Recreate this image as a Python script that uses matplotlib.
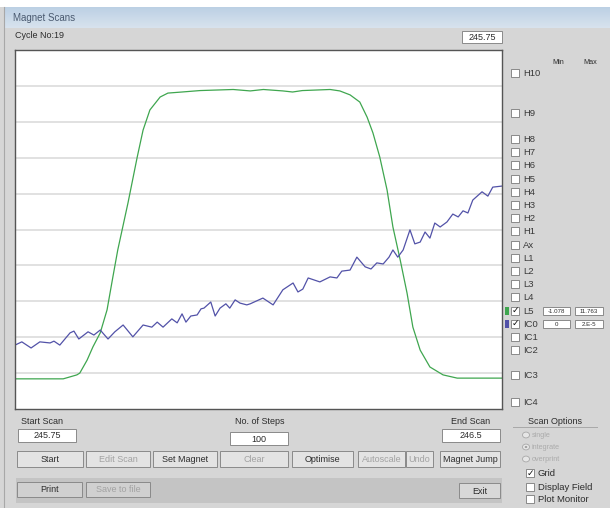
import numpy as np
import matplotlib
matplotlib.use("Agg")
import matplotlib.pyplot as plt
from matplotlib.patches import Rectangle, Circle

plt.rcParams['font.family'] = ['Liberation Sans', 'DejaVu Sans']

# scan step (0..100) and signal in grid units (0..10)
l5_steps = [0, 9.9, 12.7, 13.3, 14.8, 16.0, 17.5, 18.9, 20.1, 21.1, 23.2, 25.1, 26.3, 27.7,
            29.8, 31.4, 34.3, 38.0, 44.8, 48.3, 51.0, 55.0, 57.0, 59.0, 64.7, 66.7, 68.8,
            70.8, 72.3, 73.5, 74.9, 76.4, 77.6, 79.1, 80.5, 81.7, 83.2, 85.2, 87.9, 90.8, 100]
l5_vals = [0.84, 0.84, 0.95, 1.00, 1.36, 1.73, 2.12, 2.76, 3.68, 4.43, 5.74, 7.02, 7.77, 8.33,
           8.69, 8.80, 8.83, 8.87, 8.90, 8.86, 8.90, 8.86, 8.83, 8.87, 8.90, 8.86, 8.75,
           8.55, 8.13, 7.69, 7.02, 6.10, 5.07, 4.15, 3.23, 2.28, 1.64, 1.17, 0.95, 0.86, 0.86]

ic0_steps = [0, 1.4, 3.3, 5.1, 7.2, 8.0, 9.2, 11.3, 12.1, 13.1, 15.0, 16.2, 17.5, 19.1, 20.5,
             22.2, 24.2, 26.3, 28.1, 29.2, 30.4, 32.2, 33.3, 34.3, 35.1, 36.1, 37.4, 38.2,
             38.8, 40.2, 41.1, 42.1, 43.3, 44.1, 45.2, 46.2, 47.6, 48.3, 50.9, 53.0, 55.0,
             57.1, 58.1, 59.1, 60.2, 62.6, 64.7, 66.1, 67.1, 68.8, 70.2, 71.9, 73.1, 74.3,
             75.6, 76.8, 77.6, 78.6, 79.7, 81.1, 82.1, 83.2, 84.2, 85.2, 86.2, 87.3, 88.7,
             89.9, 91.0, 92.0, 93.0, 94.0, 95.9, 97.1, 98.1, 100]
ic0_vals = [1.78, 1.87, 1.70, 1.87, 1.84, 1.89, 1.78, 2.12, 2.17, 1.95, 2.15, 2.06, 2.20, 1.95,
            2.15, 2.34, 2.01, 2.34, 2.28, 2.42, 2.28, 2.51, 2.40, 2.65, 2.42, 2.59, 2.62, 2.79,
            2.81, 2.98, 2.59, 2.81, 2.93, 2.81, 3.04, 2.95, 2.90, 2.93, 3.09, 2.90, 3.32,
            3.51, 3.26, 3.34, 3.65, 3.54, 3.68, 3.65, 3.84, 3.87, 4.23, 3.96, 3.90, 4.07,
            4.04, 4.23, 4.43, 4.23, 4.43, 4.99, 4.60, 4.65, 4.93, 4.76, 5.18, 5.07, 5.21,
            5.43, 5.35, 5.52, 5.46, 5.82, 6.05, 5.93, 6.18, 6.21]

channels = ['H10', 'H9', 'H8', 'H7', 'H6', 'H5', 'H4', 'H3', 'H2', 'H1', 'Ax',
            'L1', 'L2', 'L3', 'L4', 'L5', 'IC0', 'IC1', 'IC2', 'IC3', 'IC4']
checked = ['L5', 'IC0']
min_vals = {'L5': '-1.078', 'IC0': '0'}
max_vals = {'L5': '11.763', 'IC0': '2.E-5'}

GREEN = '#3fa64f'
BLUE = '#5252a8'
BG = '#d6d6d6'
TXT = '#2c2c2c'

W, H = 610, 508
fig = plt.figure(figsize=(W / 100, H / 100), dpi=100)
fig.patch.set_facecolor(BG)


def fx(x):
    return x / W


def fy(y):
    return 1 - y / H


def rect(x0, y0, x1, y1, fc, ec='none', lw=0.8, z=1):
    fig.patches.append(Rectangle((fx(x0), fy(y1)), (x1 - x0) / W, (y1 - y0) / H,
                                 transform=fig.transFigure, facecolor=fc,
                                 edgecolor=ec, lw=lw, zorder=z))


def label(x, y, s, ha='left', color=TXT, size=6.5):
    fig.text(fx(x), fy(y), s, ha=ha, va='center', color=color, fontsize=size, zorder=5)


def button(x0, y0, x1, y1, s, enabled=True, face='#e3e3e3'):
    rect(x0, y0, x1, y1, face, '#8a8a8a', lw=0.7, z=2)
    label((x0 + x1) / 2, (y0 + y1) / 2 + 0.5, s, ha='center',
          color=TXT if enabled else '#a2a2a2')


def checkbox(x, y, on=False):
    rect(x, y - 4, x + 8, y + 4, 'white', '#7a7a7a', lw=0.6, z=2)
    if on:
        fig.text(fx(x + 4), fy(y), '✓', ha='center', va='center', fontsize=6.5,
                 color='#111111', family='DejaVu Sans', weight='bold', zorder=5)


def entry(x0, y0, x1, y1, s, size=6.5):
    rect(x0, y0, x1, y1, 'white', '#8a8a8a', lw=0.7, z=2)
    label((x0 + x1) / 2, (y0 + y1) / 2 + 0.5, s, ha='center', size=size)


# window frame and title bar
rect(0, 0, W, 7, 'white')
tb = fig.add_axes([fx(4), fy(28), (W - 4) / W, 21 / H])
grad = np.linspace(0, 1, 50).reshape(-1, 1)
tb.imshow(grad, aspect='auto', cmap=matplotlib.colors.LinearSegmentedColormap.from_list(
    'tb', ['#bcd0e4', '#d8e3ee']), extent=[0, 1, 0, 1])
tb.axis('off')
label(13, 18, 'Magnet Scans', color='#4a5a70', size=7)
fig.lines.append(plt.Line2D([fx(4), fx(4)], [fy(7), fy(H)], transform=fig.transFigure,
                            color='#a8a8a8', lw=0.8))

label(15, 36, 'Cycle No:19')
entry(462, 31, 502, 43, '245.75')

# plot area
ax = fig.add_axes([fx(15), fy(409), 487 / W, 359 / H])
ax.set_facecolor('white')
ax.set_xlim(0, 100)
ax.set_ylim(0, 10)
ax.set_yticks(range(1, 10))
ax.set_xticks([])
ax.grid(axis='y', color='#dcdcdc', lw=1.2)
ax.tick_params(left=False, labelleft=False)
for sp in ax.spines.values():
    sp.set_color('#555555')
    sp.set_linewidth(1.0)
ax.plot(l5_steps, l5_vals, color=GREEN, lw=0.9)
ax.plot(ic0_steps, ic0_vals, color=BLUE, lw=0.9)

# channel checkboxes
label(558, 62, 'Min', ha='center', size=5.2)
label(590, 62, 'Max', ha='center', size=5.2)
ys = {'H10': 73, 'H9': 113, 'IC3': 375, 'IC4': 402}
for i, ch in enumerate(channels[2:19]):
    ys[ch] = 139 + 13.2 * i
for ch in channels:
    y = ys[ch]
    checkbox(511, y, ch in checked)
    label(523, y + 0.5, ch, size=6.8, color='#3a3a3a')
    if ch in min_vals:
        rect(505, y - 4, 509, y + 4, GREEN if ch == 'L5' else BLUE)
        entry(543, y - 4, 570, y + 4, min_vals[ch], size=4.4)
        entry(575, y - 4, 603, y + 4, max_vals[ch], size=4.4)

# scan controls
label(42, 421, 'Start Scan', ha='center')
entry(18, 429, 76, 442, '245.75')
label(260, 421, 'No. of Steps', ha='center')
entry(230, 432, 288, 445, '100')
label(471, 421, 'End Scan', ha='center')
entry(442, 429, 500, 442, '246.5')

button(17, 451, 83, 467, 'Start')
button(86, 451, 150, 467, 'Edit Scan', enabled=False)
button(153, 451, 217, 467, 'Set Magnet')
button(220, 451, 288, 467, 'Clear', enabled=False)
button(292, 451, 353, 467, 'Optimise')
button(358, 451, 405, 467, 'Autoscale', enabled=False)
button(406, 451, 433, 467, 'Undo', enabled=False)
button(440, 451, 500, 467, 'Magnet Jump')

rect(16, 478, 502, 503, '#c4c4c4')
button(17, 482, 82, 497, 'Print', face='#d0d0d0')
button(86, 482, 150, 497, 'Save to file', enabled=False, face='#d0d0d0')
button(459, 483, 500, 498, 'Exit', face='#d8d8d8')

# scan options
label(555, 421, 'Scan Options', ha='center')
fig.lines.append(plt.Line2D([fx(513), fx(597)], [fy(427), fy(427)], transform=fig.transFigure,
                            color='#a8a8a8', lw=0.7))
for y, s, sel in [(435, 'single', False), (447, 'integrate', True), (459, 'overprint', False)]:
    fig.patches.append(Circle((fx(526), fy(y)), 3.5 / W, transform=fig.transFigure,
                              facecolor='#e6e6e6', edgecolor='#a8a8a8', lw=0.6, zorder=2))
    if sel:
        fig.patches.append(Circle((fx(526), fy(y)), 1.3 / W, transform=fig.transFigure,
                                  facecolor='#a0a0a0', edgecolor='none', zorder=3))
    label(532, y + 0.5, s, color='#ababab', size=5.2)
for y, s, on in [(473, 'Grid', True), (487, 'Display Field', False), (499, 'Plot Monitor', False)]:
    checkbox(526, y, on)
    label(538, y + 0.5, s, size=6.8)

fig.savefig('out.png', dpi=100, facecolor=fig.get_facecolor())
